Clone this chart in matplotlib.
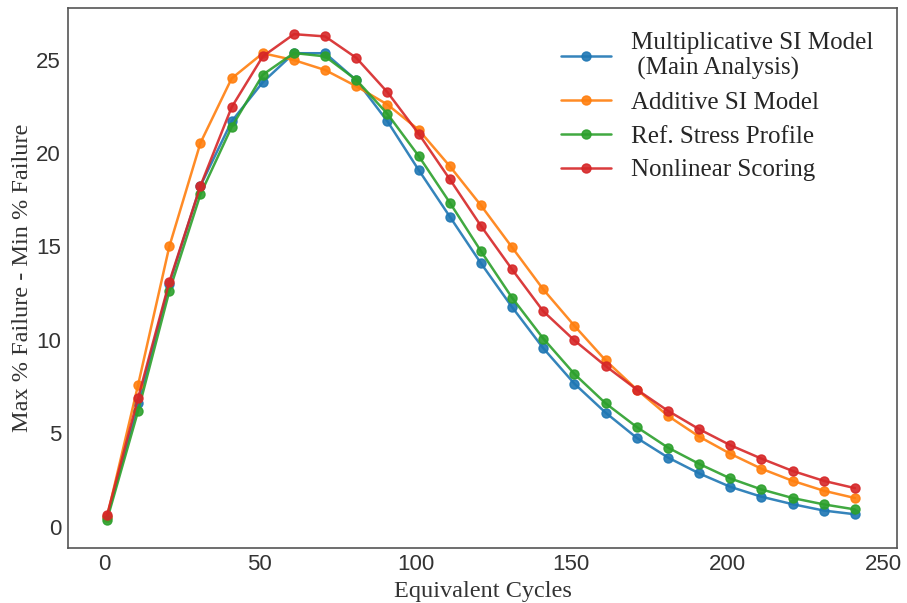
import matplotlib
matplotlib.use('Agg')
import matplotlib.pyplot as plt

# --- 数据 ---
cycles = [1, 11, 21, 31, 41, 51, 61, 71, 81, 91, 101, 111, 121, 131, 141,
          151, 161, 171, 181, 191, 201, 211, 221, 231, 241]

multiplicative = [0.5, 6.6, 13.0, 18.25, 21.7, 23.8, 25.35, 25.35, 23.9, 21.7,
                  19.1, 16.6, 14.1, 11.75, 9.55, 7.65, 6.1, 4.75, 3.7, 2.85,
                  2.13, 1.6, 1.2, 0.86, 0.66]
additive = [0.5, 7.6, 15.0, 20.55, 24.0, 25.35, 24.98, 24.45, 23.58, 22.6,
            21.25, 19.3, 17.2, 14.95, 12.7, 10.75, 8.9, 7.34, 5.93, 4.82,
            3.9, 3.1, 2.45, 1.92, 1.53]
ref_stress = [0.35, 6.2, 12.6, 17.8, 21.4, 24.2, 25.36, 25.18, 23.92, 22.1,
              19.85, 17.35, 14.75, 12.25, 10.07, 8.17, 6.6, 5.33, 4.23, 3.36,
              2.58, 1.99, 1.53, 1.19, 0.92]
nonlinear = [0.6, 6.9, 13.1, 18.25, 22.46, 25.18, 26.37, 26.25, 25.1, 23.26,
             21.04, 18.6, 16.1, 13.77, 11.53, 9.97, 8.6, 7.34, 6.2, 5.22,
             4.36, 3.64, 2.98, 2.45, 2.06]

labels = ['Multiplicative SI Model\n (Main Analysis)', 'Additive SI Model',
          'Ref. Stress Profile', 'Nonlinear Scoring']
series = [multiplicative, additive, ref_stress, nonlinear]
colors = ['#1f77b4', '#ff7f0e', '#2ca02c', '#d62728']
# ----------

plt.style.use('seaborn-v0_8-white')
serif = ['Liberation Serif', 'DejaVu Serif']
sans = ['Liberation Sans', 'DejaVu Sans']

fig, ax = plt.subplots(figsize=(9.07, 6.03), dpi=100)
fig.subplots_adjust(left=0.075, right=0.989, top=0.987, bottom=0.092)

for vals, lab, col in zip(series, labels, colors):
    ax.plot(cycles, vals, marker='o', markersize=6.5, linewidth=1.8,
            color=col, alpha=0.9, label=lab)

ax.set_xlim(-11.5, 254.5)
ax.set_ylim(-1.12, 27.78)
ax.set_xticks([0, 50, 100, 150, 200, 250])
ax.set_yticks([0, 5, 10, 15, 20, 25])
ax.tick_params(length=0, pad=5)

for t in ax.get_xticklabels() + ax.get_yticklabels():
    t.set_family(sans)
    t.set_fontsize(16)
    t.set_color('#333333')

ax.set_xlabel('Equivalent Cycles', family=serif, fontsize=17.5, color='#333333')
ax.set_ylabel('Max % Failure - Min % Failure', family=serif, fontsize=17.5,
              color='#333333', labelpad=2)

for sp in ax.spines.values():
    sp.set_color('#555555')
    sp.set_linewidth(1.2)

ax.legend(loc='upper right', prop={'family': serif, 'size': 18},
          frameon=False, handlelength=2.0, handletextpad=0.8,
          borderaxespad=0.55, labelspacing=0.45)

fig.savefig('out.png', dpi=100)
